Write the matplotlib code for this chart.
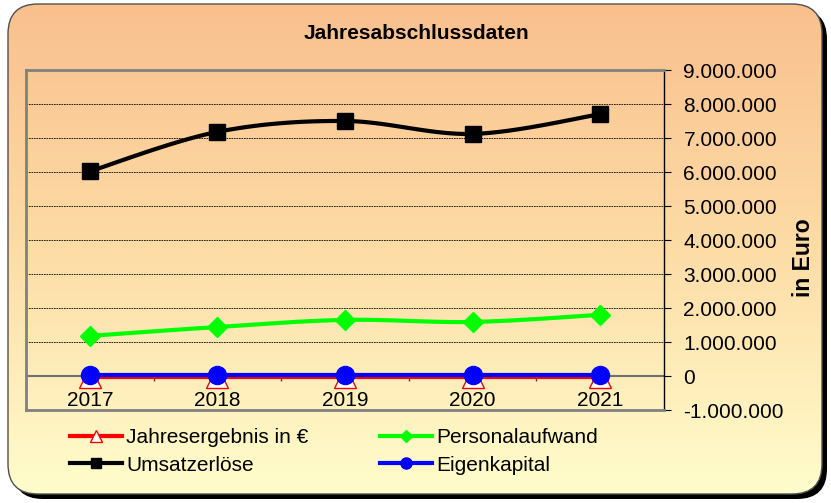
import numpy as np
import matplotlib.pyplot as plt
from matplotlib.patches import FancyBboxPatch
from matplotlib.lines import Line2D
from matplotlib.colors import LinearSegmentedColormap

plt.rcParams["font.family"] = ["Liberation Sans", "DejaVu Sans"]

years = ["2017", "2018", "2019", "2020", "2021"]
jahresergebnis = [-30000, -30000, -30000, -30000, -30000]
umsatzerloese = [6020000, 7180000, 7500000, 7120000, 7700000]
personalaufwand = [1180000, 1440000, 1650000, 1590000, 1800000]
eigenkapital = [40000, 40000, 40000, 40000, 40000]

y_ticks = list(range(-1000000, 9000001, 1000000))


def smooth(ys, n=30):
    # catmull-rom curve through the points (like excel's smoothed lines)
    p = np.column_stack([np.arange(len(ys), dtype=float), np.asarray(ys, float)])
    pts = []
    t = np.linspace(0, 1, n)[:, None]
    for i in range(len(p) - 1):
        p0 = p[i - 1] if i > 0 else p[i]
        p1, p2 = p[i], p[i + 1]
        p3 = p[i + 2] if i + 2 < len(p) else p[i + 1]
        seg = 0.5 * (2 * p1 + (-p0 + p2) * t
                     + (2 * p0 - 5 * p1 + 4 * p2 - p3) * t ** 2
                     + (-p0 + 3 * p1 - 3 * p2 + p3) * t ** 3)
        pts.append(seg)
    pts = np.vstack(pts)
    return pts[:, 0], pts[:, 1]


W, H = 831, 503
fig = plt.figure(figsize=(W / 100, H / 100), dpi=100)

# background: rounded box with gradient and shadow
bg = fig.add_axes([0, 0, 1, 1])
bg.set_xlim(0, W)
bg.set_ylim(H, 0)
bg.axis("off")
style = "round,pad=0,rounding_size=30"
bg.add_patch(FancyBboxPatch((13, 9), 814, 490, boxstyle=style, fc="black", ec="none", zorder=0))
box = FancyBboxPatch((8, 4), 814, 490, boxstyle=style, fc="none", ec="#505050", lw=1, zorder=2)
bg.add_patch(box)
cmap = LinearSegmentedColormap.from_list("bg", ["#F9C08E", "#FDDCA6", "#FFFDCC"])
grad = np.linspace(0, 1, 256).reshape(-1, 1)
im = bg.imshow(grad, extent=(8, 822, 494, 4), aspect="auto", cmap=cmap, zorder=1)
im.set_clip_path(box)

ax = fig.add_axes([26 / W, (H - 410) / H, 638 / W, 340 / H])
ax.patch.set_alpha(0)
ax.set_xlim(-0.5, 4.5)
ax.set_ylim(-1000000, 9000000)
for s in ["left", "top", "bottom"]:
    ax.spines[s].set_color("#808080")
    ax.spines[s].set_linewidth(2)
ax.spines["right"].set_color("black")
ax.spines["right"].set_linewidth(1)

ax.set_xticks([])
ax.yaxis.tick_right()
ax.set_yticks(y_ticks)
ax.set_yticklabels([f"{v:,.0f}".replace(",", ".") for v in y_ticks])
ax.tick_params(axis="y", direction="out", length=5, labelsize=15, pad=9)

for v in y_ticks:
    if 0 < v < 9000000:
        ax.axhline(v, color="black", lw=0.6, ls=(0, (2, 1)), zorder=1)
ax.axhline(0, color="#707070", lw=1.5, zorder=1)
ax.vlines([0.5, 1.5, 2.5, 3.5], -150000, 0, color="#404040", lw=1, zorder=1)

x = np.arange(len(years))
for i, yr in enumerate(years):
    ax.annotate(yr, (i, 0), xytext=(0, -18), textcoords="offset points",
                ha="center", va="center", fontsize=15)

xs, ys = smooth(jahresergebnis)
ax.plot(xs, ys, color="#FF0000", lw=3, zorder=3)
ax.plot(x, jahresergebnis, "^", ms=16, mfc="white", mec="#FF0000", mew=1, zorder=3)

xs, ys = smooth(umsatzerloese)
ax.plot(xs, ys, color="black", lw=3, zorder=3)
ax.plot(x, umsatzerloese, "s", ms=12, color="black", zorder=3)

xs, ys = smooth(personalaufwand)
ax.plot(xs, ys, color="#00FF00", lw=3, zorder=3)
ax.plot(x, personalaufwand, "D", ms=10, color="#00FF00", zorder=3)

xs, ys = smooth(eigenkapital)
ax.plot(xs, ys, color="#0000FF", lw=3, zorder=4)
ax.plot(x, eigenkapital, "o", ms=13, color="#0000FF", zorder=4)

handles = [
    Line2D([], [], color="#FF0000", lw=3, marker="^", ms=9, mfc="white", mec="#FF0000"),
    Line2D([], [], color="black", lw=3, marker="s", ms=7),
    Line2D([], [], color="#00FF00", lw=3, marker="D", ms=6),
    Line2D([], [], color="#0000FF", lw=3, marker="o", ms=8),
]
labels = ["Jahresergebnis in €", "Umsatzerlöse", "Personalaufwand", "Eigenkapital"]
fig.legend(handles, labels, ncol=2, loc="upper left", bbox_to_anchor=(70 / W, 1 - 428 / H),
           frameon=False, fontsize=15, handlelength=2.5, handletextpad=0.2,
           columnspacing=3.45, labelspacing=0.42, borderaxespad=0, borderpad=0)

fig.text(416 / W, 1 - 33 / H, "Jahresabschlussdaten", ha="center", va="center",
         fontsize=15, fontweight="bold")
fig.text(803 / W, 1 - 258 / H, "in Euro", ha="center", va="center", rotation=90,
         fontsize=16.5, fontweight="bold")

fig.savefig("out.png", dpi=100)
